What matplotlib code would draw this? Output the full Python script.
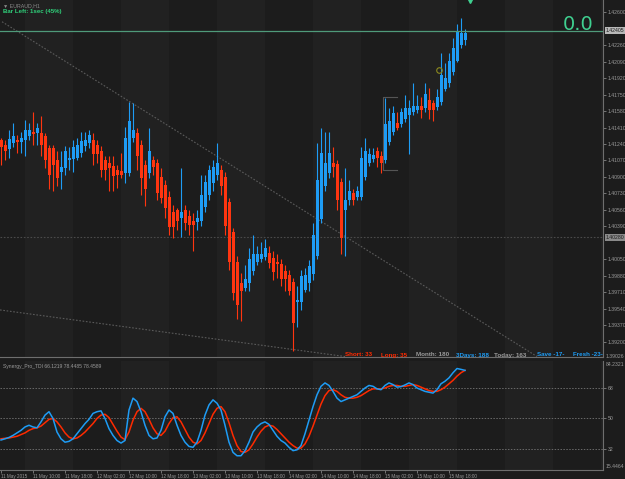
import matplotlib
matplotlib.use("Agg")
import matplotlib.pyplot as plt
import numpy as np

plt.rcParams["font.family"] = ["Liberation Sans", "DejaVu Sans"]

# EURAUD H1, first bar 11 May 2015 02:00
opens = [1.4128, 1.4123, 1.4119, 1.4125, 1.4128, 1.4126, 1.4128, 1.4132, 1.4136, 1.4135,
         1.4135, 1.4132, 1.4120, 1.4120, 1.4107, 1.4095, 1.4099, 1.4107, 1.4109, 1.4110,
         1.4115, 1.4122, 1.4125, 1.4128, 1.4123, 1.4117, 1.4108, 1.4104, 1.4101, 1.4097,
         1.4096, 1.4094, 1.4094, 1.4130, 1.4135, 1.4123, 1.4102, 1.4094, 1.4107, 1.4104,
         1.4090, 1.4082, 1.4069, 1.4054, 1.4056, 1.4048, 1.4056, 1.4050, 1.4045, 1.4044,
         1.4045, 1.4059, 1.4071, 1.4084, 1.4092, 1.4097, 1.4090, 1.4064, 1.4033, 1.4002,
         1.3981, 1.3976, 1.3981, 1.3993, 1.4002, 1.4006, 1.4008, 1.4012, 1.4007, 1.4002,
         1.4000, 1.3993, 1.3989, 1.3982, 1.3961, 1.3961, 1.3974, 1.3981, 1.3990, 1.4009,
         1.4047, 1.4081, 1.4094, 1.4104, 1.4103, 1.4085, 1.4056, 1.4066, 1.4074, 1.4069,
         1.4069, 1.4090, 1.4104, 1.4109, 1.4117, 1.4112, 1.4107, 1.4126, 1.4136, 1.4146,
         1.4145, 1.4150, 1.4154, 1.4157, 1.4159, 1.4163, 1.4161, 1.4169, 1.4166, 1.4162,
         1.4167, 1.4181, 1.4187, 1.4198, 1.4210, 1.4226, 1.4231]
highs = [1.4130, 1.4128, 1.4138, 1.4146, 1.4133, 1.4136, 1.4149, 1.4146, 1.4157, 1.4146,
         1.4153, 1.4135, 1.4123, 1.4123, 1.4117, 1.4117, 1.4122, 1.4121, 1.4128, 1.4130,
         1.4136, 1.4136, 1.4138, 1.4135, 1.4128, 1.4122, 1.4112, 1.4112, 1.4112, 1.4102,
         1.4115, 1.4142, 1.4167, 1.4166, 1.4140, 1.4128, 1.4107, 1.4141, 1.4112, 1.4109,
         1.4099, 1.4087, 1.4076, 1.4061, 1.4058, 1.4099, 1.4061, 1.4056, 1.4053, 1.4056,
         1.4092, 1.4092, 1.4102, 1.4107, 1.4125, 1.4102, 1.4095, 1.4068, 1.4037, 1.4009,
         1.3991, 1.3999, 1.4017, 1.4030, 1.4019, 1.4023, 1.4026, 1.4019, 1.4014, 1.4011,
         1.4006, 1.3999, 1.3994, 1.3986, 1.3978, 1.3994, 1.3996, 1.4004, 1.4043, 1.4125,
         1.4140, 1.4136, 1.4136, 1.4121, 1.4107, 1.4089, 1.4099, 1.4087, 1.4078, 1.4081,
         1.4121, 1.4130, 1.4120, 1.4120, 1.4121, 1.4117, 1.4171, 1.4161, 1.4163, 1.4157,
         1.4161, 1.4174, 1.4169, 1.4187, 1.4175, 1.4172, 1.4187, 1.4182, 1.4169, 1.4181,
         1.4218, 1.4207, 1.4218, 1.4233, 1.4248, 1.4254, 1.4243]
lows = [1.4102, 1.4107, 1.4110, 1.4121, 1.4115, 1.4115, 1.4112, 1.4128, 1.4123, 1.4123,
        1.4112, 1.4099, 1.4078, 1.4076, 1.4081, 1.4078, 1.4092, 1.4097, 1.4095, 1.4107,
        1.4111, 1.4117, 1.4120, 1.4102, 1.4104, 1.4090, 1.4087, 1.4076, 1.4076, 1.4079,
        1.4089, 1.4084, 1.4091, 1.4126, 1.4097, 1.4071, 1.4060, 1.4089, 1.4092, 1.4066,
        1.4063, 1.4048, 1.4030, 1.4027, 1.4035, 1.4028, 1.4035, 1.4030, 1.4014, 1.4035,
        1.4040, 1.4054, 1.4066, 1.4076, 1.4087, 1.4071, 1.4030, 1.3994, 1.3963, 1.3944,
        1.3942, 1.3973, 1.3973, 1.3989, 1.3999, 1.4002, 1.4004, 1.3996, 1.3984, 1.3986,
        1.3978, 1.3973, 1.3968, 1.3911, 1.3935, 1.3953, 1.3971, 1.3973, 1.3984, 1.4006,
        1.4043, 1.4076, 1.4089, 1.4090, 1.4056, 1.4011, 1.4009, 1.4061, 1.4061, 1.4066,
        1.4066, 1.4087, 1.4101, 1.4105, 1.4100, 1.4094, 1.4104, 1.4123, 1.4133, 1.4138,
        1.4142, 1.4147, 1.4114, 1.4154, 1.4156, 1.4151, 1.4157, 1.4150, 1.4148, 1.4159,
        1.4164, 1.4179, 1.4183, 1.4195, 1.4208, 1.4223, 1.4226]
closes = [1.4121, 1.4117, 1.4129, 1.4132, 1.4126, 1.4130, 1.4138, 1.4138, 1.4134, 1.4140,
          1.4123, 1.4107, 1.4092, 1.4102, 1.4089, 1.4100, 1.4117, 1.4110, 1.4121, 1.4123,
          1.4127, 1.4128, 1.4133, 1.4114, 1.4114, 1.4097, 1.4097, 1.4099, 1.4091, 1.4092,
          1.4092, 1.4130, 1.4148, 1.4138, 1.4112, 1.4089, 1.4078, 1.4117, 1.4100, 1.4074,
          1.4068, 1.4058, 1.4038, 1.4038, 1.4045, 1.4054, 1.4043, 1.4041, 1.4041, 1.4048,
          1.4071, 1.4085, 1.4097, 1.4100, 1.4104, 1.4081, 1.4040, 1.4002, 1.3970, 1.3958,
          1.3973, 1.3985, 1.4006, 1.4011, 1.4011, 1.4011, 1.4017, 1.4001, 1.3992, 1.4000,
          1.3985, 1.3985, 1.3973, 1.3940, 1.3963, 1.3988, 1.3989, 1.3998, 1.4030, 1.4087,
          1.4115, 1.4104, 1.4115, 1.4100, 1.4066, 1.4027, 1.4066, 1.4076, 1.4066, 1.4076,
          1.4110, 1.4117, 1.4114, 1.4113, 1.4110, 1.4104, 1.4145, 1.4148, 1.4156, 1.4141,
          1.4157, 1.4161, 1.4161, 1.4163, 1.4163, 1.4159, 1.4176, 1.4159, 1.4159, 1.4172,
          1.4195, 1.4192, 1.4210, 1.4223, 1.4239, 1.4238, 1.4238]

# Synergy_Pro_TDI lines
tdi_fast = [37.3, 38, 38.8, 40, 41.5, 43, 45, 46, 45, 44.5, 48, 52, 54, 50, 42, 38, 36, 36.5, 38, 41,
            44, 47, 49.5, 53, 54, 54.5, 50, 44, 40, 37, 35.5, 37, 55, 62, 60, 54, 46, 40, 38, 38.5,
            43, 51, 55, 53, 46, 40, 36, 33.5, 33, 36, 43, 52, 58, 61, 59, 55, 46, 36, 30, 28,
            28, 31, 36, 42, 45, 47, 48, 46.5, 43, 39.5, 37, 35.5, 33, 31, 31.5, 34, 41, 49, 57, 64,
            69, 71, 69.5, 66, 62, 60, 61, 62, 63, 64, 66, 68, 69.5, 69, 67.5, 67, 69.5, 71, 70, 68.5,
            68.8, 69.8, 71, 70, 68, 67, 66, 65.5, 65, 67, 70.5, 72, 74, 77, 79.5, 79, 78.4]
tdi_slow = [38, 38.3, 38.5, 39, 39.5, 40.5, 41.5, 43, 44, 44.5, 45.5, 47.5, 49.5, 50, 48, 45, 41.5, 39, 38, 38.5,
            40, 42, 44.5, 47, 50, 52, 52.5, 50.5, 46.5, 42.5, 39, 37.5, 42, 49, 54, 56, 54, 49.5, 44.5, 41,
            40, 42.5, 47, 50.5, 51, 48, 43.5, 39, 36, 35, 37, 41.5, 47, 52.5, 56, 57, 54, 47.5, 40, 34,
            30.5, 30, 31.5, 35, 39, 42.5, 45, 46, 45.5, 43.5, 41, 38.5, 36, 34, 32.5, 32.5, 35, 39.5, 45.5, 52,
            58.5, 63.5, 66.5, 67, 66, 64, 62.5, 62, 62, 62.5, 63.5, 65, 66.5, 67.5, 67.5, 67.5, 68, 69, 69.5, 69.5,
            69, 69, 69.5, 70, 69.5, 68.5, 67.5, 66.5, 66, 66, 67, 68.5, 70.5, 72.5, 75, 77, 78.4]
tdi_levels = [68, 50, 32]

time_labels = ["11 May 2015", "11 May 10:00", "11 May 18:00", "12 May 02:00", "12 May 10:00",
               "12 May 18:00", "13 May 02:00", "13 May 10:00", "13 May 18:00", "14 May 02:00",
               "14 May 10:00", "14 May 18:00", "15 May 02:00", "15 May 10:00", "15 May 18:00"]
price_ticks = [1.42600, 1.42260, 1.42090, 1.41920, 1.41750, 1.41580, 1.41410, 1.41240, 1.41070,
               1.40900, 1.40730, 1.40560, 1.40390, 1.40050, 1.39880, 1.39710, 1.39540,
               1.39370, 1.39200]
bid = 1.42405
level_line = 1.40280
trend1 = ([0.25, 134.0], [1.4250, 1.3905])
trend2 = ([-0.25, 86.0], [1.3953, 1.3905])

bg = "#1c1c1c"
up_col = "#1e9cf5"
dn_col = "#ff3510"
txt_col = "#9a9a9a"
lab_fs = 3.7

W, H = 625, 479
fig = plt.figure(figsize=(W / 100, H / 100), dpi=100)
fig.patch.set_facecolor(bg)

ax = fig.add_axes([0, 1 - 357 / H, 603 / W, 357 / H])
ind = fig.add_axes([0, 1 - 470 / H, 603 / W, 109.5 / H])

n = len(opens)
idx = np.arange(n)
o = np.array(opens); c = np.array(closes)
hi = np.array(highs); lo = np.array(lows)
cols = np.where(c >= o, up_col, dn_col)

for a in (ax, ind):
    a.set_facecolor(bg)
    a.set_xlim(-0.25, 150.5)
    for s in ("top", "left"):
        a.spines[s].set_visible(False)
    for s in ("right", "bottom"):
        a.spines[s].set_color("#6e6e6e")
        a.spines[s].set_linewidth(0.8)
    a.yaxis.tick_right()
    a.tick_params(axis="y", colors=txt_col, labelsize=lab_fs, length=2, width=0.5, pad=1.2)

# alternating period shading
for b0 in range(6, 151, 24):
    ax.axvspan(b0, b0 + 12, color="#212121", lw=0, zorder=0)
    ind.axvspan(b0, b0 + 12, color="#212121", lw=0, zorder=0)

# candles
ax.vlines(idx, lo, hi, colors=cols, linewidth=0.8, zorder=3)
body_h = np.maximum(np.abs(c - o), 0.00004)
ax.bar(idx, body_h, bottom=np.minimum(o, c), width=0.75, color=cols, linewidth=0, zorder=4)

ax.set_ylim(1.39045, 1.42724)
ax.set_yticks(price_ticks)
ax.set_yticklabels([f"{p:.5f}" for p in price_ticks])
ax.set_xticks([])

# trend lines and levels
ax.plot(trend1[0], trend1[1], color="#5a5a5a", ls=(0, (1.5, 1.5)), lw=0.8, zorder=2)
ax.plot(trend2[0], trend2[1], color="#5a5a5a", ls=(0, (1.5, 1.5)), lw=0.8, zorder=2)
ax.axhline(level_line, color="#4a4a4a", ls=(0, (1.5, 1.5)), lw=0.8, zorder=2)
ax.axhline(bid, color="#4f9a7a", lw=0.9, zorder=5)
ax.text(1.005, bid, f"{bid:.5f}", transform=ax.get_yaxis_transform(), fontsize=lab_fs,
        color="#1c1c1c", va="center", ha="left",
        bbox=dict(boxstyle="square,pad=0.2", fc="#b8b8b8", ec="none"), clip_on=False)
ax.text(1.005, level_line, f"{level_line:.5f}", transform=ax.get_yaxis_transform(), fontsize=lab_fs,
        color="#1c1c1c", va="center", ha="left",
        bbox=dict(boxstyle="square,pad=0.2", fc="#8a8a8a", ec="none"), clip_on=False)
ax.text(1.005, 0.0, "1.39026", transform=ax.transAxes, fontsize=lab_fs, color=txt_col,
        va="center", ha="left", clip_on=False)

# bracket and markers
ax.plot([99.0, 95.5, 95.5, 99.0], [1.4172, 1.4172, 1.4097, 1.4097], color="#555555", lw=0.8, zorder=2)
ax.plot([109.5], [1.4200], marker="o", ms=4, mfc="none", mec="#8c8a1e", mew=0.8, zorder=6)
ax.plot([117.2], [1.4272], marker="v", ms=4, color="#3fd090", zorder=6, clip_on=False)

# chart texts
fig.text(3 / W, 1 - 6 / H, "\u25bc EURAUD,H1", fontsize=3.8, color="#8a8a8a", va="center")
fig.text(3 / W, 1 - 12 / H, "Bar Left: 1sec (45%)", fontsize=4.4, color="#2fd07a",
         fontweight="bold", va="center")
fig.text(593 / W, 1 - 24 / H, "0.0", fontsize=14, color="#3fd090", va="center", ha="right",
         family="DejaVu Sans")
stats = [("Short: 33", 345, "#ff2a00"), ("Long: 35", 381, "#ff2a00"), ("Month: 180", 416, "#9a9a9a"),
         ("3Days: 188", 456, "#1e9cf5"), ("Today: 163", 494, "#9a9a9a"),
         ("Save -17-", 537, "#1e9cf5"), ("Fresh -23-", 573, "#1e9cf5")]
for s, x, col in stats:
    fig.text(x / W, 1 - 355 / H, s, fontsize=4.5, color=col, fontweight="bold", va="center")

# indicator pane
ind.plot(idx, tdi_slow, color="#ff2a00", lw=1.1, zorder=4)
ind.plot(idx, tdi_fast, color="#1e9cf5", lw=1.1, zorder=5)
for lv in tdi_levels:
    ind.axhline(lv, color="#6a6a6a", ls=(0, (1.5, 1.5)), lw=0.7, zorder=2)
ind.set_ylim(19.59, 84.2321)
ind.set_yticks(tdi_levels)
ind.set_yticklabels([str(v) for v in tdi_levels])
ind.text(1.005, 0.985, "84.2321", transform=ind.transAxes, fontsize=lab_fs, color=txt_col,
         va="top", ha="left", clip_on=False)
ind.text(1.005, 0.01, "15.4464", transform=ind.transAxes, fontsize=lab_fs, color=txt_col,
         va="bottom", ha="left", clip_on=False)
ind.text(0.005, 0.97, "Synergy_Pro_TDI 66.1219 78.4485 78.4589", transform=ind.transAxes,
         fontsize=3.6, color="#9a9a9a", va="top", ha="left")

ind.set_xticks(np.arange(0, 8 * len(time_labels), 8))
ind.set_xticklabels(time_labels)
ind.tick_params(axis="x", colors=txt_col, labelsize=3.3, length=2, width=0.5, pad=1)
for lbl in ind.get_xticklabels():
    lbl.set_ha("left")

fig.savefig("out.png", dpi=100, facecolor=bg)
